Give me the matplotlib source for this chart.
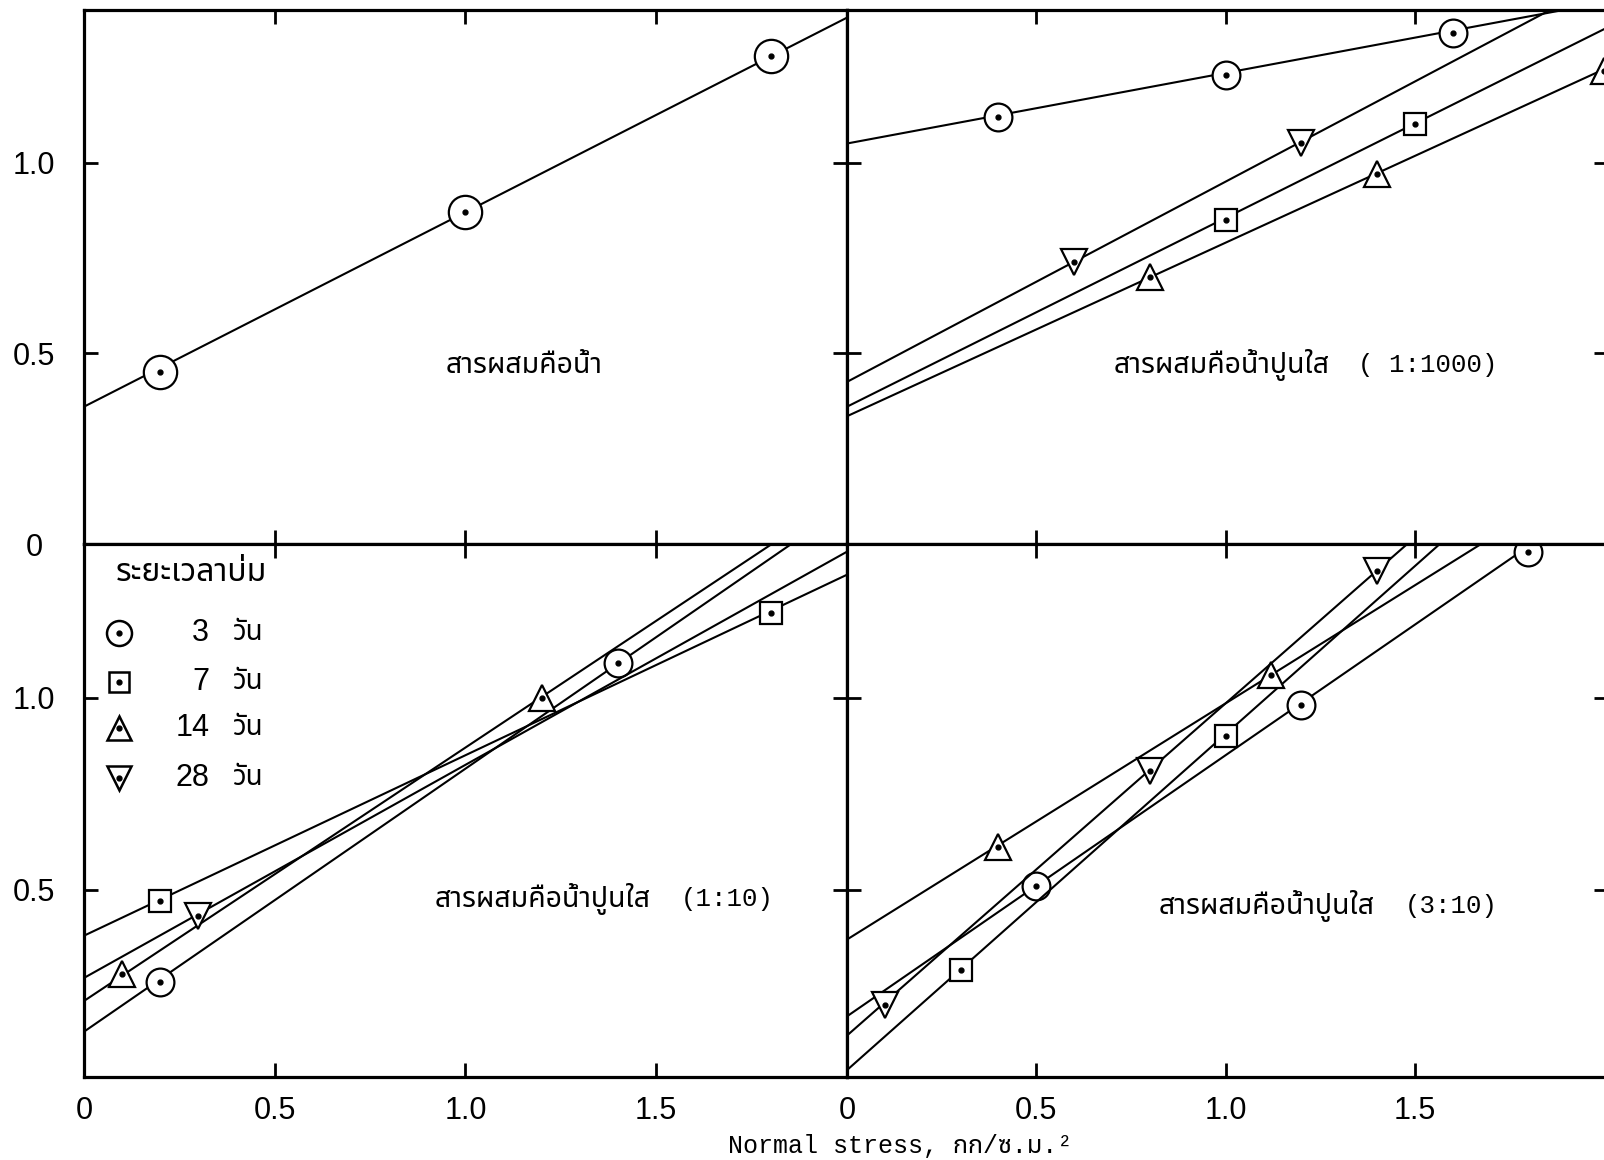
import numpy as np
import matplotlib
matplotlib.use('Agg')
import matplotlib.pyplot as plt
from matplotlib import font_manager
from matplotlib.ft2font import FT2Font


# find a font that has Thai glyphs
def find_thai_font():
    names = []
    for f in font_manager.fontManager.ttflist:
        try:
            if 0x0E01 in FT2Font(f.fname).get_charmap():
                names.append(f.name)
        except Exception:
            continue
    for pref in ['Noto Sans Thai', 'Loma', 'Garuda', 'Norasi', 'Tlwg Typo']:
        if pref in names:
            return pref
    return names[0] if names else 'DejaVu Sans'


thai = find_thai_font()
mono = ['Liberation Mono', thai]
sans = ['Liberation Sans', thai]

# curing time (days)
days = ['3', '7', '14', '28']

# panel A: mixture = water (3 days only)
a_x = [0.2, 1.0, 1.8]
a_y = [0.45, 0.87, 1.28]
a_c = 0.36
a_tan = 0.51

# panel B: lime water 1:1000
b_x = [[0.4, 1.0, 1.6], [1.0, 1.5], [0.8, 1.4, 2.0], [0.6, 1.2]]
b_y = [[1.12, 1.23, 1.34], [0.85, 1.10], [0.70, 0.97, 1.24], [0.74, 1.05]]
b_c = [1.05, 0.36, 0.335, 0.425]
b_tan = [0.185, 0.495, 0.455, 0.525]

# panel C: lime water 1:10
c_x = [[0.2, 1.4], [0.2, 1.8], [0.1, 1.2], [0.3]]
c_y = [[0.26, 1.09], [0.47, 1.22], [0.28, 1.0], [0.43]]
c_c = [0.13, 0.38, 0.21, 0.27]
c_tan = [0.685, 0.47, 0.66, 0.555]

# panel D: lime water 3:10
d_x = [[0.5, 1.2, 1.8], [0.3, 1.0], [0.4, 1.12], [0.1, 0.8, 1.4]]
d_y = [[0.51, 0.98, 1.38], [0.29, 0.90], [0.61, 1.06], [0.20, 0.81, 1.33]]
d_c = [0.17, 0.03, 0.37, 0.12]
d_tan = [0.68, 0.875, 0.615, 0.865]

xtick_vals = [0, 0.5, 1.0, 1.5]
xtick_labels = ['0', '0.5', '1.0', '1.5']

markers = ['o', 's', '^', 'v']
msizes = [20, 16, 19, 19]

fig = plt.figure(figsize=(16.04, 11.6), dpi=100)
W, H = 1604, 1160


def make_ax(x0, y0, x1, y1):
    return fig.add_axes([x0 / W, 1 - y1 / H, (x1 - x0) / W, (y1 - y0) / H])


axA = make_ax(84, 10, 847, 544)
axB = make_ax(847, 10, 1608, 544)
axC = make_ax(84, 544, 847, 1077)
axD = make_ax(847, 544, 1608, 1077)

for ax in [axA, axB, axC, axD]:
    ax.set_xlim(0, 2.01 if ax in (axB, axD) else 2.0)
    for s in ax.spines.values():
        s.set_linewidth(2.3)
    ax.set_xticks(xtick_vals)
    ax.tick_params(direction='in', length=10, width=2, top=True, right=True,
                   labelsize=22, pad=14)

axA.set_ylim(0, 1.4)
axB.set_ylim(0, 1.4)
axC.set_ylim(0.012, 1.4)
axD.set_ylim(0.012, 1.4)

axA.set_yticks([0, 0.5, 1.0], ['0', '0.5', '1.0'])
axB.set_yticks([0.5, 1.0])
axC.set_yticks([0.5, 1.0], ['0.5', '1.0'])
axD.set_yticks([0.5, 1.0])
axC.set_xticks(xtick_vals, xtick_labels)
axD.set_xticks(xtick_vals, xtick_labels)
axA.tick_params(labelbottom=False)
axB.tick_params(labelbottom=False, labelleft=False)
axD.tick_params(labelleft=False)
for ax in [axA, axC]:
    ax.tick_params(axis='y', pad=36)
    for lab in ax.get_yticklabels():
        lab.set_ha('center')
        lab.set_family(sans)
for ax in [axC, axD]:
    for lab in ax.get_xticklabels():
        lab.set_family(sans)

xl = np.array([0.0, 2.1])


def draw_series(ax, xs, ys, c, tan, m, ms):
    ax.plot(xl, c + tan * xl, color='black', lw=1.5)
    ax.plot(xs, ys, ls='none', marker=m, ms=ms, mfc='white', mec='black', mew=1.6)
    ax.plot(xs, ys, ls='none', marker='o', ms=3.5, color='black')


draw_series(axA, a_x, a_y, a_c, a_tan, 'o', 24)
for i in range(4):
    draw_series(axB, b_x[i], b_y[i], b_c[i], b_tan[i], markers[i], msizes[i])
    draw_series(axC, c_x[i], c_y[i], c_c[i], c_tan[i], markers[i], msizes[i])
    draw_series(axD, d_x[i], d_y[i], d_c[i], d_tan[i], markers[i], msizes[i])

# panel labels
thai_size = 20.5
mono_size = 18.5
axA.text(0.949, 0.469, 'สารผสมคือน้ำ', family=thai, fontsize=thai_size, va='center')
axB.text(0.705, 0.469, 'สารผสมคือน้ำปูนใส', family=thai, fontsize=thai_size, va='center')
axB.text(1.35, 0.469, '( 1:1000)', family=mono, fontsize=mono_size, va='center')
axC.text(0.92, 0.475, 'สารผสมคือน้ำปูนใส', family=thai, fontsize=thai_size, va='center')
axC.text(1.565, 0.475, '(1:10)', family=mono, fontsize=mono_size, va='center')
axD.text(0.824, 0.457, 'สารผสมคือน้ำปูนใส', family=thai, fontsize=thai_size, va='center')
axD.text(1.472, 0.457, '(3:10)', family=mono, fontsize=mono_size, va='center')

# legend (curing time)
axC.text(0.042, 0.946, 'ระยะเวลาบ่ม', family=thai, fontsize=23, va='center',
         transform=axC.transAxes)
row_y = [0.833, 0.741, 0.655, 0.561]
leg_ms = [18, 14, 17, 17]
for i in range(4):
    axC.plot([0.046], [row_y[i]], transform=axC.transAxes, marker=markers[i],
             ms=leg_ms[i], mfc='white', mec='black', mew=1.8, ls='none')
    axC.plot([0.046], [row_y[i]], transform=axC.transAxes, marker='o',
             ms=3.5, color='black', ls='none')
    axC.text(0.164, row_y[i], days[i], family=sans, fontsize=22, ha='right',
             va='center', transform=axC.transAxes)
    axC.text(0.195, row_y[i], 'วัน', family=thai, fontsize=20, ha='left',
             va='center', transform=axC.transAxes)

fig.text(900 / W, 1 - 1146 / H, 'Normal stress, กก/ซ.ม.²', family=mono,
         fontsize=18, ha='center', va='center')

fig.savefig('out.png', dpi=100, facecolor='white')
